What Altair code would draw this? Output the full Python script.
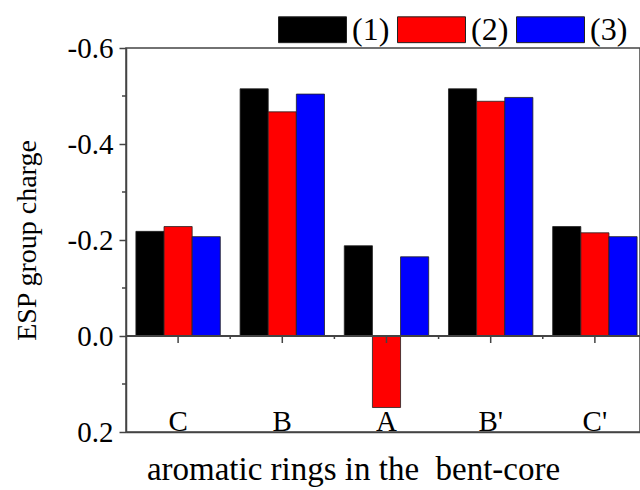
import altair as alt
import pandas as pd

categories = ["C", "B", "A", "B'", "C'"]
series_names = ["(1)", "(2)", "(3)"]
s1 = [-0.218, -0.515, -0.188, -0.515, -0.228]
s2 = [-0.228, -0.467, 0.149, -0.489, -0.215]
s3 = [-0.207, -0.504, -0.165, -0.497, -0.207]
y_ticks = [-0.6, -0.4, -0.2, 0.0, 0.2]
y_minor = [-0.5, -0.3, -0.1, 0.1]
colors = ["#000000", "#FF0000", "#0000FF"]

rows = []
for i, c in enumerate(categories):
    for k, (name, vals) in enumerate(zip(series_names, [s1, s2, s3])):
        rows.append({"cat": c, "idx": i, "k": k, "series": name, "value": vals[i]})
df = pd.DataFrame(rows)
cat_df = pd.DataFrame({"cat": categories, "idx": list(range(len(categories)))})
bound_df = pd.DataFrame({"b": [i + 0.5 for i in range(len(categories) - 1)]})
minor_df = pd.DataFrame({"v": y_minor})

SERIF = "Liberation Serif"
LINE = "#444444"

xscale = alt.Scale(domain=[-0.5, 4.433], nice=False, zero=False)
yscale = alt.Scale(domain=[-0.6, 0.2], reverse=True, nice=False, zero=False)

bars = alt.Chart(df).transform_calculate(
    x0="datum.idx - 0.405 + datum.k * 0.27",
    x1="datum.idx - 0.405 + (datum.k + 1) * 0.27",
).mark_bar(stroke="#222222", strokeWidth=0.8).encode(
    x=alt.X("x0:Q", scale=xscale, axis=alt.Axis(
        title="aromatic rings in the\u00a0 bent-core", labels=False, ticks=False,
        titleFontSize=33,
        titleX=227, titleY=47, titleBaseline="alphabetic", titleAlign="center")),
    x2="x1:Q",
    y=alt.Y("value:Q", scale=yscale, axis=alt.Axis(
        values=y_ticks,
        labelExpr="datum.value < 0 ? '-' + format(-datum.value, '.1f') : format(datum.value, '.1f')",
        title="ESP group charge", titleFontSize=28, titleX=-99, titleY=192, titleAngle=270,
        titleBaseline="middle", titleAlign="center")),
    y2=alt.Y2Datum(0),
    color=alt.Color("series:N", scale=alt.Scale(domain=series_names, range=colors),
                    legend=alt.Legend(title=None, orient="none", legendX=152, legendY=-53,
                                      direction="horizontal",
                                      symbolType="M-1,-0.38H1V0.38H-1Z", symbolSize=4624,
                                      symbolStrokeColor="#222222", symbolStrokeWidth=1,
                                      symbolOpacity=1,
                                      labelFont=SERIF, labelFontSize=32, labelColor="black",
                                      labelOffset=5, columnPadding=5, padding=0)),
)

zero_line = alt.Chart(cat_df).mark_rule(color=LINE, strokeWidth=1.5).encode(
    y=alt.YDatum(0, scale=yscale)
)

major_x_ticks = alt.Chart(cat_df).mark_rule(color=LINE, strokeWidth=1.5, y2Offset=7).encode(
    x=alt.X("idx:Q", scale=xscale),
    y=alt.YDatum(0, scale=yscale),
    y2=alt.Y2Datum(0),
)

minor_x_ticks = alt.Chart(bound_df).mark_rule(color=LINE, strokeWidth=1.5, y2Offset=3).encode(
    x=alt.X("b:Q", scale=xscale),
    y=alt.YDatum(0, scale=yscale),
    y2=alt.Y2Datum(0),
)

minor_y_ticks = alt.Chart(minor_df).mark_rule(color=LINE, strokeWidth=1.5).encode(
    y=alt.Y("v:Q", scale=yscale),
    x=alt.value(-4),
    x2=alt.value(0),
)

cat_labels = alt.Chart(cat_df).mark_text(
    font=SERIF, fontSize=29, color="black", baseline="alphabetic", align="center", dy=-1
).encode(
    x=alt.X("idx:Q", scale=xscale),
    y=alt.YDatum(0.2, scale=yscale),
    text="cat:N",
)

chart = alt.layer(
    bars, zero_line, major_x_ticks, minor_x_ticks, minor_y_ticks, cat_labels
).properties(
    width=514, height=384,
    autosize=alt.AutoSizeParams(type="none"),
    padding={"left": 126, "top": 48, "right": 0, "bottom": 58},
    background="white",
).configure_view(
    stroke=LINE, strokeWidth=1.5
).configure_axis(
    grid=False, tickSize=7, tickColor=LINE, tickWidth=1.5,
    domainColor=LINE, domainWidth=1.5,
    labelFont=SERIF, labelFontSize=29, labelColor="black", labelPadding=6,
    titleFont=SERIF, titleFontSize=28, titleFontWeight="normal", titleColor="black",
)

chart.save("out.html", embed_options={"renderer": "svg", "actions": False})
